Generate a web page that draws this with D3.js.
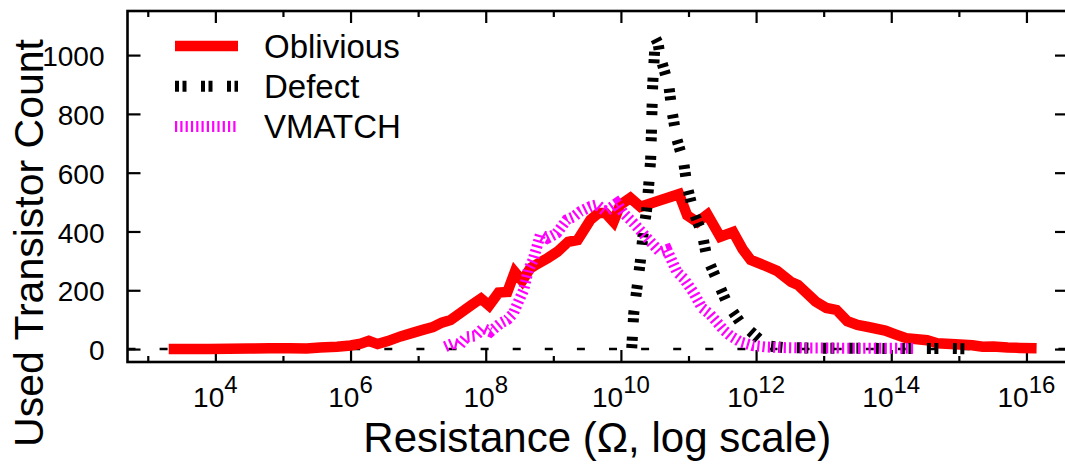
<!DOCTYPE html>
<html>
<head>
<meta charset="utf-8">
<script src="https://cdn.jsdelivr.net/npm/d3@7"></script>
<style>
body { margin: 0; background: #fff; }
svg text { font-family: "Liberation Sans", Arial, Helvetica, sans-serif; fill: #000; }
</style>
</head>
<body>
<script>
// values: x as log10(resistance), y as transistor count
var oblExp   = [3.31, 3.6, 3.9, 4.2, 4.5, 4.8, 5.1, 5.35, 5.55, 5.8, 6.0, 6.15, 6.27, 6.40, 6.55, 6.74, 6.93, 7.08, 7.22, 7.35, 7.48, 7.62, 7.79, 7.93, 8.05, 8.19, 8.32, 8.43, 8.54, 8.66, 8.77, 8.92, 9.06, 9.22, 9.36, 9.55, 9.67, 9.77, 9.89, 9.99, 10.14, 10.29, 10.57, 10.86, 10.98, 11.13, 11.28, 11.47, 11.66, 11.80, 11.92, 12.11, 12.31, 12.52, 12.62, 12.88, 13.04, 13.19, 13.35, 13.5, 13.66, 13.91, 14.06, 14.22, 14.53, 14.68, 14.95, 15.2, 15.35, 15.51, 15.72, 15.9, 16.15]
var oblCount = [0, 0, 0, 1, 2, 3, 3, 2, 5, 8, 12, 18, 28, 17, 27, 43, 56, 66, 75, 90, 99, 122, 150, 172, 148, 192, 194, 262, 232, 275, 290, 310, 331, 365, 371, 440, 463, 463, 433, 490, 514, 484, 505, 527, 455, 432, 458, 382, 398, 340, 303, 286, 266, 228, 218, 162, 140, 133, 95, 82, 75, 63, 50, 37, 30, 20, 16, 13, 8, 9, 5, 4, 3]

var defExp   = [10.16, 10.19, 10.24, 10.29, 10.33, 10.38, 10.41, 10.44, 10.45, 10.46, 10.47, 10.51, 10.55, 10.58, 10.71, 10.76, 10.83, 10.93, 10.98, 11.08, 11.20, 11.27, 11.42, 11.57, 11.77, 11.91, 12.06, 12.2, 12.4, 12.7, 13.0, 13.3, 13.6, 13.9, 14.2, 14.5, 14.8, 15.14]
var defCount = [3, 122, 212, 303, 395, 473, 553, 644, 723, 814, 899, 1058, 1040, 996, 894, 803, 712, 633, 553, 463, 395, 314, 235, 156, 89, 62, 31, 10, 5, 4, 3, 3, 3, 2, 2, 2, 2, 1]

var vmExp    = [7.40, 7.52, 7.62, 7.72, 7.85, 7.96, 8.07, 8.22, 8.32, 8.41, 8.50, 8.56, 8.63, 8.70, 8.81, 8.91, 9.05, 9.20, 9.30, 9.40, 9.55, 9.65, 9.77, 9.94, 10.04, 10.19, 10.39, 10.58, 10.68, 10.83, 10.93, 11.08, 11.2, 11.32, 11.42, 11.52, 11.62, 11.77, 11.95, 12.15, 12.4, 12.7, 13.0, 13.3, 13.6, 13.9, 14.1, 14.33]
var vmCount  = [8, 20, 15, 42, 45, 71, 59, 88, 100, 122, 170, 200, 269, 303, 390, 377, 394, 440, 450, 468, 485, 491, 468, 496, 462, 428, 377, 330, 338, 262, 240, 190, 140, 118, 92, 65, 45, 24, 12, 7, 5, 4, 4, 3, 3, 3, 3, 3]

var seriesNames = ["Oblivious", "Defect", "VMATCH"]
var yTicks = [0, 200, 400, 600, 800, 1000]
var majorExps = [4, 6, 8, 10, 12, 14, 16]
var minorExps = [3, 5, 7, 9, 11, 13, 15]

var width = 1065, height = 465
var plotL = 127.5, plotR = 1067, plotT = 11, plotB = 362

var svg = d3.select("body").append("svg")
    .attr("width", width)
    .attr("height", height)

var x = d3.scaleLog().domain([Math.pow(10, 2.7), Math.pow(10, 16.6)]).range([plotL, plotR])
var y = d3.scaleLinear().domain([-44, 1150]).range([plotB, plotT])

function pow10(e) { return Math.pow(10, e) }

// ticks (all four sides), drawn with d3 axes, domain path removed
function tickAxis(axis, tx, ty) {
  var g = svg.append("g").attr("transform", "translate(" + tx + "," + ty + ")").call(axis)
  g.select(".domain").remove()
  g.selectAll("line").attr("stroke", "#000").attr("stroke-width", 2.2)
  g.selectAll("text").remove()
  return g
}
tickAxis(d3.axisBottom(x).tickValues(majorExps.map(pow10)).tickSize(-12), 0, plotB)
tickAxis(d3.axisBottom(x).tickValues(minorExps.map(pow10)).tickSize(-6), 0, plotB)
tickAxis(d3.axisTop(x).tickValues(majorExps.map(pow10)).tickSize(-12), 0, plotT)
tickAxis(d3.axisTop(x).tickValues(minorExps.map(pow10)).tickSize(-6), 0, plotT)
tickAxis(d3.axisRight(y).tickValues(yTicks).tickSize(-12), plotR, 0)

var yAxis = svg.append("g").attr("transform", "translate(" + plotL + ",0)")
    .call(d3.axisLeft(y).tickValues(yTicks).tickFormat(d3.format("d")).tickSize(-13).tickPadding(23))
yAxis.select(".domain").remove()
yAxis.selectAll("line").attr("stroke", "#000").attr("stroke-width", 2.2)
yAxis.selectAll("text")
    .attr("font-size", 28)
    .attr("dy", "0.38em")
    .style("font-family", "'Liberation Sans', Arial, sans-serif")

// x tick labels 10^n
var xl = svg.append("g").selectAll("text").data(majorExps).enter()
    .append("text")
    .attr("x", function(d){ return x(pow10(d)) })
    .attr("y", 407)
    .attr("text-anchor", "middle")
    .attr("font-size", 28)
xl.append("tspan").text("10")
xl.append("tspan").attr("dy", -14).attr("font-size", 24).text(function(d){ return d })

// frame
svg.append("rect")
    .attr("x", plotL).attr("y", plotT)
    .attr("width", plotR - plotL).attr("height", plotB - plotT)
    .attr("fill", "none").attr("stroke", "#000").attr("stroke-width", 2.6)

// dashed zero axis
svg.append("line")
    .attr("x1", plotL).attr("x2", plotR)
    .attr("y1", y(0)).attr("y2", y(0))
    .attr("stroke", "#000").attr("stroke-width", 2.5)
    .attr("stroke-dasharray", "8,24.1")

var line = d3.line()
    .x(function(d){ return x(pow10(d[0])) })
    .y(function(d){ return y(d[1]) })

var series = [
  { pts: d3.zip(oblExp, oblCount), color: "#ff0000", w: 10.5, dash: null },
  { pts: d3.zip(defExp, defCount), color: "#000000", w: 11, dash: "4,3.5,4,14.5" },
  { pts: d3.zip(vmExp, vmCount), color: "#ff00ff", w: 11, dash: "2.2,3.1" }
]

svg.append("g").selectAll("path").data(series).enter()
    .append("path")
    .attr("d", function(d){ return line(d.pts) })
    .attr("fill", "none")
    .attr("stroke", function(d){ return d.color })
    .attr("stroke-width", function(d){ return d.w })
    .attr("stroke-dasharray", function(d){ return d.dash })
    .attr("stroke-linejoin", "miter")
    .attr("stroke-linecap", "butt")

// legend
var leg = svg.append("g").selectAll("g").data(series).enter()
    .append("g")
    .attr("transform", function(d, i){ return "translate(0," + (46 + i * 40.3) + ")" })
leg.append("line")
    .attr("x1", 175).attr("x2", 238).attr("y1", 0).attr("y2", 0)
    .attr("stroke", function(d){ return d.color })
    .attr("stroke-width", function(d){ return d.w })
    .attr("stroke-dasharray", function(d){ return d.dash })
leg.append("text")
    .attr("x", 264).attr("y", 11.5)
    .attr("font-size", 33)
    .text(function(d, i){ return seriesNames[i] })

// axis titles
svg.append("text")
    .attr("x", (plotL + plotR) / 2).attr("y", 452)
    .attr("text-anchor", "middle")
    .attr("font-size", 42)
    .text("Resistance (\u03A9, log scale)")

svg.append("text")
    .attr("transform", "translate(43,243) rotate(-90)")
    .attr("text-anchor", "middle")
    .attr("font-size", 41)
    .text("Used Transistor Count")
</script>
</body>
</html>
